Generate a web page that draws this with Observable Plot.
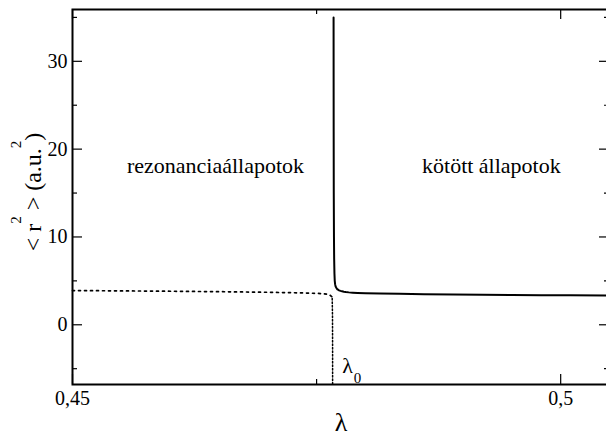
<!DOCTYPE html>
<html><head><meta charset="utf-8">
<script src="https://cdn.jsdelivr.net/npm/d3@7"></script>
<script src="https://cdn.jsdelivr.net/npm/@observablehq/plot@0.6"></script>
<style>
html,body{margin:0;padding:0;background:#fff;overflow:hidden}
#chart svg text, #chart svg tspan { font-family: "Liberation Serif", "DejaVu Serif", "Noto Serif", Tinos, serif !important; }
</style>
</head><body><div id="chart"></div>
<script>
// Bound states (solid curve)
const boundLambda = [0.47674, 0.476745, 0.47675, 0.47676, 0.47678, 0.4768, 0.47683, 0.47686, 0.4769, 0.47695, 0.47705, 0.47715, 0.4773, 0.47745, 0.4776, 0.4778, 0.478, 0.4783, 0.4787, 0.4792, 0.48, 0.4815, 0.4835, 0.486, 0.489, 0.492, 0.495, 0.498, 0.501, 0.505];
const boundR2 = [35, 28, 22, 15, 10, 7.5, 5.8, 5.0, 4.6, 4.35, 4.15, 4.02, 3.92, 3.86, 3.82, 3.77, 3.73, 3.69, 3.66, 3.63, 3.6, 3.57, 3.53, 3.49, 3.45, 3.42, 3.39, 3.37, 3.35, 3.32];
// Resonance states (dotted curve)
const resLambda = [0.45, 0.455, 0.46, 0.465, 0.47, 0.473, 0.475, 0.4758, 0.4762, 0.4764, 0.47655, 0.4766];
const resR2 = [3.9, 3.86, 3.82, 3.77, 3.7, 3.64, 3.58, 3.52, 3.45, 3.35, 3.2, 3.0];
// Resonance drop at lambda_0 (dotted vertical)
const dropLambda = [0.4766, 0.47663, 0.47664, 0.47664];
const dropR2 = [3.0, 1.0, -3, -8];
// Ticks
const xMajorTicks = [0.45, 0.5];
const xMinorTicks = [0.475];
const xTickLabels = ["0,45", "0,5"];
const yMajorTicks = [0, 10, 20, 30];
const yMinorTicks = [-5, 5, 15, 25, 35];
const regionLabels = ["rezonanciaállapotok", "kötött állapotok"];

const W = 606, Hh = 435;
const mT = 9, mB = 51, mL = 72, mR = -3;
const fw = W - mL - mR, fh = Hh - mT - mB;

const bound = boundLambda.map((x, i) => ({x, y: boundR2[i]}));
const res = resLambda.map((x, i) => ({x, y: resR2[i]}));
const drop = dropLambda.map((x, i) => ({x, y: dropR2[i]}));
const regions = regionLabels.map((t, i) => ({t, x: [0.46465, 0.4929][i], y: 18.1}));

const serif = "Liberation Serif, DejaVu Serif, serif";
const chart = Plot.plot({
  width: W, height: Hh,
  marginTop: mT, marginBottom: mB, marginLeft: mL, marginRight: mR,
  style: {fontFamily: serif, fontSize: "20px", background: "#fff", color: "#000"},
  x: {domain: [0.45, 0.505], range: [mL, W - mR]},
  y: {domain: [-6.8, 35.9], range: [Hh - mB, mT]},
  marks: [
    Plot.line(res, {x: "x", y: "y", stroke: "#000", strokeWidth: 1.7, strokeDasharray: "2,4"}),
    Plot.line(drop, {x: "x", y: "y", stroke: "#000", strokeWidth: 1.5, strokeDasharray: "1.5,2", clip: true}),
    Plot.line(bound, {x: "x", y: "y", stroke: "#000", strokeWidth: 2}),
    // inward ticks
    Plot.ruleX(xMajorTicks, {x: d => d, insetTop: fh - 10, stroke: "#000", strokeWidth: 1.2}),
    Plot.ruleX(xMajorTicks, {x: d => d, insetBottom: fh - 10, stroke: "#000", strokeWidth: 1.2}),
    Plot.ruleX(xMinorTicks, {x: d => d, insetTop: fh - 5, stroke: "#000", strokeWidth: 1.2}),
    Plot.ruleX(xMinorTicks, {x: d => d, insetBottom: fh - 5, stroke: "#000", strokeWidth: 1.2}),
    Plot.ruleY(yMajorTicks, {y: d => d, insetRight: fw - 10, stroke: "#000", strokeWidth: 1.2}),
    Plot.ruleY(yMajorTicks, {y: d => d, insetLeft: fw - 10, stroke: "#000", strokeWidth: 1.2}),
    Plot.ruleY(yMinorTicks, {y: d => d, insetRight: fw - 5, stroke: "#000", strokeWidth: 1.2}),
    Plot.ruleY(yMinorTicks, {y: d => d, insetLeft: fw - 5, stroke: "#000", strokeWidth: 1.2}),
    Plot.axisX({ticks: xMajorTicks, tickSize: 0, tickPadding: 6, label: null, fontSize: 20,
      tickFormat: d => xTickLabels[xMajorTicks.indexOf(d)]}),
    Plot.axisY({ticks: yMajorTicks, tickSize: 0, tickPadding: 5, label: null, fontSize: 20}),
    Plot.frame({stroke: "#000", strokeWidth: 2}),
    Plot.text(regions, {x: "x", y: "y", text: "t", fontSize: 22, textAnchor: "middle", fill: "#000"}),
    Plot.text(["λ"], {x: () => 0.47763, y: () => -5.5, text: d => d, textAnchor: "start", lineAnchor: "bottom", fontSize: 22, fill: "#000"}),
    Plot.text(["0"], {x: () => 0.47763, y: () => -5.5, text: d => d, textAnchor: "start", lineAnchor: "bottom", fontSize: 15, dx: 11.5, dy: 10, fill: "#000"}),
    Plot.text(["λ"], {frameAnchor: "bottom", text: d => d, dy: 46, lineAnchor: "bottom", textAnchor: "middle", fontSize: 26, fill: "#000"}),
    Plot.text(["<r2> (a.u.2)"], {frameAnchor: "left", text: d => d, rotate: -90, dx: -32, dy: -5, lineAnchor: "bottom", textAnchor: "middle", fontSize: 24, fill: "#000"})
  ]
});
document.getElementById("chart").appendChild(chart);

// superscripts in the y-axis label
const NS = "http://www.w3.org/2000/svg";
chart.querySelectorAll("text").forEach(t => {
  if (t.textContent === "<r2> (a.u.2)") {
    t.textContent = "";
    const parts = [["< r", 0, null], ["2", -20, 15], [" > (a.u.", 20, null], ["2", -20, 15], [")", 20, null]];
    for (const [s, dy, fs] of parts) {
      const sp = document.createElementNS(NS, "tspan");
      sp.textContent = s;
      if (dy) sp.setAttribute("dy", dy);
      if (fs) sp.setAttribute("font-size", fs);
      t.appendChild(sp);
    }
  }
});
</script>
</body></html>
